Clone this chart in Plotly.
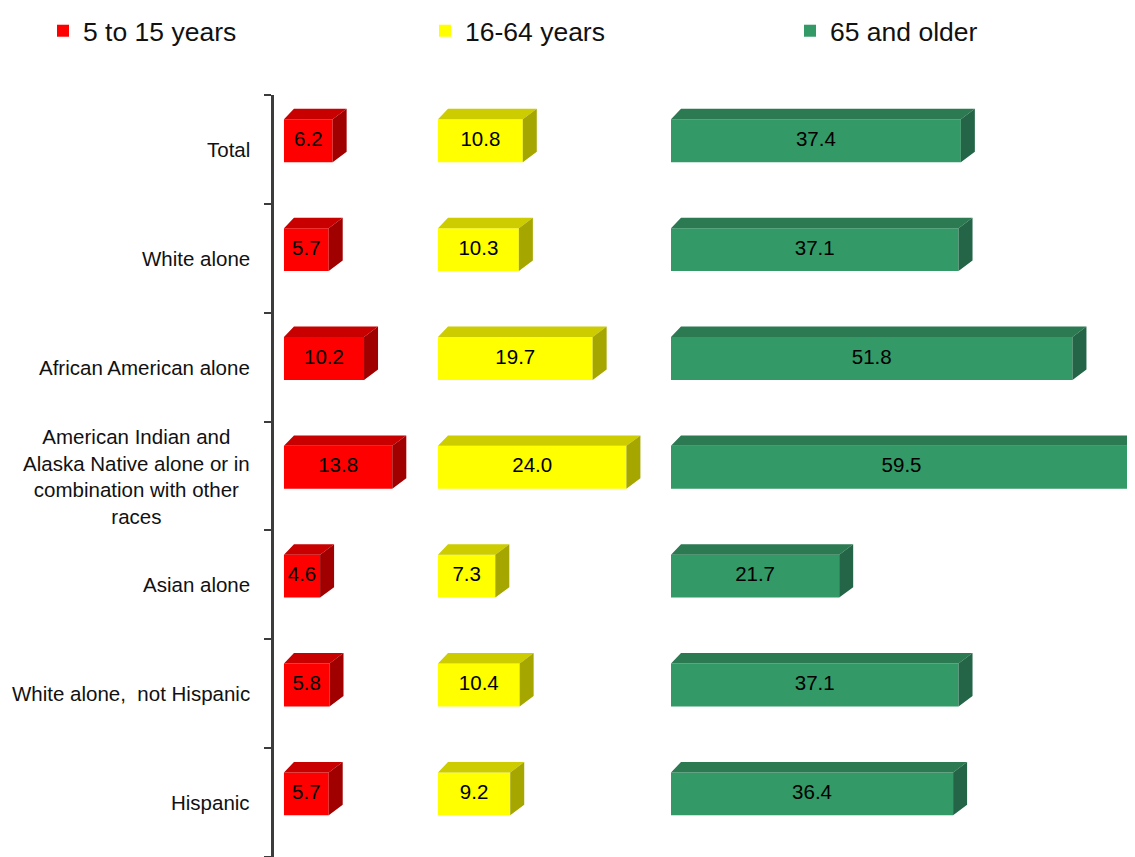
import plotly.graph_objects as go
from plotly.subplots import make_subplots

categories = [
    "Total",
    "White alone",
    "African American alone",
    "American Indian and<br>Alaska Native alone or in<br>combination with other<br>races",
    "Asian alone",
    "White alone,\u00a0 not Hispanic",
    "Hispanic",
]
age_5_15 = [6.2, 5.7, 10.2, 13.8, 4.6, 5.8, 5.7]
age_16_64 = [10.8, 10.3, 19.7, 24.0, 7.3, 10.4, 9.2]
age_65_up = [37.4, 37.1, 51.8, 59.5, 21.7, 37.1, 36.4]
series_names = ["5 to 15 years", "16-64 years", "65 and older"]

# front / top / side colours of the pseudo 3d bars
COLORS = [
    ("#ff0000", "#c80000", "#a00000"),
    ("#ffff00", "#cccc00", "#a6a600"),
    ("#339966", "#2b7a52", "#236546"),
]

# the html body has an 8px margin, so work in figure pixels = page pixels - 8
OFF = 8
W, H = 1135 - OFF, 857 - OFF
LEFT, TOP = 274 - OFF, 95 - OFF
PANELS = [
    ((274, 432), -1.27),
    ((438, 666), 0.0),
    ((671, 1135), 0.0),
]
SCALES = [7.85, 7.85, 7.75]  # px per unit

BAR_H = 0.394      # front face height (rows)
BAR_SHIFT = -0.08  # front face centre relative to row centre
DY = 0.096         # depth, vertical (rows)
DEPTH_PX_L, DEPTH_PX_R = 10, 14

fig = make_subplots(rows=1, cols=3, shared_yaxes=True, horizontal_spacing=0.0)

rows = list(range(len(categories)))
for k, vals in enumerate([age_5_15, age_16_64, age_65_up]):
    front, top, side = COLORS[k]
    col = k + 1
    dxl = DEPTH_PX_L / SCALES[k]
    dxr = DEPTH_PX_R / SCALES[k]

    tx, ty, sx, sy = [], [], [], []
    for r, v in zip(rows, vals):
        yt = r + BAR_SHIFT - BAR_H / 2
        yb = r + BAR_SHIFT + BAR_H / 2
        tx += [0, v, v + dxr, dxl, 0, None]
        ty += [yt, yt, yt - DY, yt - DY, yt, None]
        sx += [v, v + dxr, v + dxr, v, v, None]
        sy += [yt, yt - DY, yb - DY, yb, yt, None]

    fig.add_trace(go.Scatter(x=tx, y=ty, mode="lines", fill="toself", fillcolor=top,
                             line=dict(width=0, color=top), showlegend=False, hoverinfo="skip"),
                  row=1, col=col)
    fig.add_trace(go.Scatter(x=sx, y=sy, mode="lines", fill="toself", fillcolor=side,
                             line=dict(width=0, color=side), showlegend=False, hoverinfo="skip"),
                  row=1, col=col)
    fig.add_trace(go.Bar(x=vals, y=[r + BAR_SHIFT for r in rows], orientation="h", width=BAR_H,
                         marker=dict(color=front, line=dict(width=0)), name=series_names[k],
                         legend="legend" if k == 0 else f"legend{k + 1}",
                         hovertemplate="%{x:.1f}<extra>" + series_names[k] + "</extra>"),
                  row=1, col=col)
    fig.add_trace(go.Scatter(x=[v / 2 for v in vals], y=[r + BAR_SHIFT for r in rows], mode="text",
                             text=[f"{v:.1f}" for v in vals],
                             textfont=dict(size=20.5, color="#000000"),
                             showlegend=False, hoverinfo="skip", cliponaxis=False),
                  row=1, col=col)

    (p0, p1), x0 = PANELS[k]
    x1 = x0 + (p1 - p0) / SCALES[k]
    xa = "xaxis" if k == 0 else f"xaxis{k + 1}"
    fig.layout[xa].update(
        domain=[(p0 - OFF - LEFT) / (W - LEFT), (p1 - OFF - LEFT) / (W - LEFT)],
        range=[x0, x1], visible=False, fixedrange=True,
    )

fig.update_yaxes(
    range=[len(categories) - 0.5, -0.5],
    tickvals=rows, showticklabels=False, ticks="",
    showgrid=False, zeroline=False, fixedrange=True,
)
fig.update_yaxes(
    showline=True, linecolor="#3c3c3c", linewidth=3,
    minor=dict(tickmode="linear", tick0=0.5, dtick=1, ticks="outside", ticklen=7,
               tickwidth=2, tickcolor="#3c3c3c", showgrid=False),
    row=1, col=1,
)

for r, label in zip(rows, categories):
    fig.add_annotation(x=0, xref="paper", xanchor="right", xshift=-22,
                       y=r, yref="y", text=label, align="center", showarrow=False,
                       font=dict(size=20.5, color="#111111"))

legend_style = dict(orientation="h", xref="container", yref="container", yanchor="middle",
                    y=1 - 23 / H, bgcolor="rgba(0,0,0,0)", borderwidth=0,
                    font=dict(size=26.5, color="#111111"), itemclick=False, itemdoubleclick=False)
fig.update_layout(
    width=W, height=H,
    margin=dict(l=LEFT, r=0, t=TOP, b=0),
    paper_bgcolor="#ffffff", plot_bgcolor="#ffffff",
    font=dict(family="Liberation Sans, Arial, sans-serif", color="#111111"),
    barmode="overlay",
    legend=dict(x=35 / W, **legend_style),
    legend2=dict(x=417 / W, **legend_style),
    legend3=dict(x=782 / W, **legend_style),
)

fig.write_html("out.html")
